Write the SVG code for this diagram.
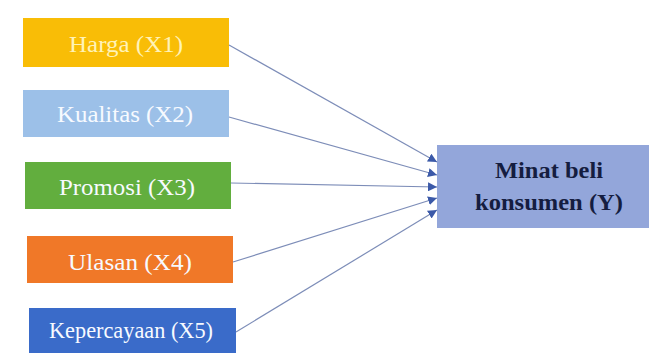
<svg xmlns="http://www.w3.org/2000/svg" width="649" height="353" viewBox="0 0 649 353">
<style>
.lbl{font-family:"Liberation Serif","Times New Roman",serif;font-size:24px;text-anchor:middle;fill:#F7FAFF}
.tgt{font-family:"Liberation Serif","Times New Roman",serif;font-size:24px;font-weight:bold;text-anchor:middle;fill:#151D40}
.conn line{stroke:#7D8DB8;stroke-width:1.2;fill:none;marker-end:url(#arr)}
</style>
<defs>
<marker id="arr" viewBox="0 0 10 10" refX="10" refY="5" markerWidth="9" markerHeight="9" markerUnits="userSpaceOnUse" orient="auto">
<path d="M0,0 L10,5 L0,10 Z" fill="#3B59A8"/>
</marker>
</defs>
<rect width="649" height="353" fill="#FFFFFF"/>
<g id="harga">
<rect x="23" y="18" width="206" height="49" fill="#F9BD06"/>
<text class="lbl" x="126" y="52" style="fill:#FFF3B8" textLength="114" lengthAdjust="spacingAndGlyphs">Harga (X1)</text>
</g>
<g id="kualitas">
<rect x="23" y="90" width="206" height="47" fill="#9CC0E8"/>
<text class="lbl" x="125" y="122" textLength="136" lengthAdjust="spacingAndGlyphs">Kualitas (X2)</text>
</g>
<g id="promosi">
<rect x="25" y="162" width="206" height="47" fill="#62AE3E"/>
<text class="lbl" x="127" y="195" textLength="136" lengthAdjust="spacingAndGlyphs">Promosi (X3)</text>
</g>
<g id="ulasan">
<rect x="27" y="236" width="206" height="47" fill="#F07828"/>
<text class="lbl" x="130" y="270" textLength="124" lengthAdjust="spacingAndGlyphs">Ulasan (X4)</text>
</g>
<g id="kepercayaan">
<rect x="29" y="308" width="207" height="45" fill="#3A6BC9"/>
<text class="lbl" x="131" y="338" textLength="164" lengthAdjust="spacingAndGlyphs">Kepercayaan (X5)</text>
</g>
<g id="minat">
<rect x="437" y="145" width="212" height="83" fill="#93A6DA"/>
<text class="tgt" x="549" y="178" textLength="108" lengthAdjust="spacingAndGlyphs">Minat beli</text>
<text class="tgt" x="549" y="210" textLength="148" lengthAdjust="spacingAndGlyphs">konsumen (Y)</text>
</g>
<g id="connectors" class="conn">
<line x1="229" y1="45" x2="437" y2="162"/>
<line x1="229" y1="117" x2="437" y2="175"/>
<line x1="231" y1="183" x2="437" y2="187"/>
<line x1="233" y1="262" x2="437" y2="198"/>
<line x1="236" y1="332" x2="437" y2="210"/>
</g>
</svg>
